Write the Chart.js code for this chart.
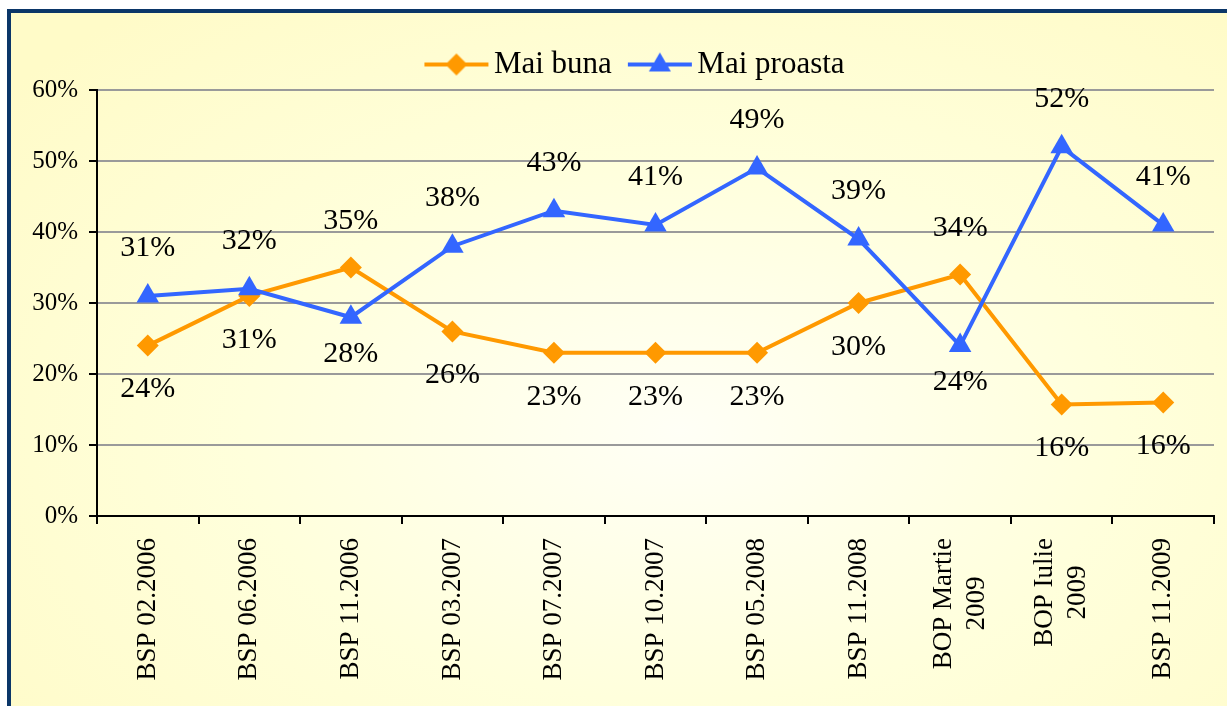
<!DOCTYPE html>
<html>
<head>
<meta charset="utf-8">
<script src="https://cdn.jsdelivr.net/npm/chart.js@4"></script>
<style>
  html, body { margin: 0; padding: 0; background: #fff; overflow: hidden; }
  #frame {
    position: absolute; left: 7px; top: 9px;
    width: 1240px; height: 720px;
    border-top: 4px solid #0b3668; border-left: 4px solid #0b3668;
    background: radial-gradient(ellipse 70% 75% at 54% 58%, #fffff6 0%, #ffffdc 50%, #fffbc8 100%);
  }
  #chart { position: absolute; left: 0; top: 0; }
</style>
</head>
<body>
<div id="frame"><canvas id="chart" width="1216" height="693"></canvas></div>
<script>
// categories (multi-line ones as arrays)
const categories = ['BSP 02.2006', 'BSP 06.2006', 'BSP 11.2006', 'BSP 03.2007', 'BSP 07.2007',
    'BSP 10.2007', 'BSP 05.2008', 'BSP 11.2008', ['BOP Martie', '2009'], ['BOP Iulie', '2009'], 'BSP 11.2009'];

// values in %
const maiBuna = [24, 31, 35, 26, 23, 23, 23, 30, 34, 15.7, 16];
const maiProasta = [31, 32, 28, 38, 43, 41, 49, 39, 24, 52, 41];

const seriesNames = ['Mai buna', 'Mai proasta'];

// y axis ticks
const yMin = 0, yMax = 60, yStep = 10;

// where each value label sits relative to its point
const bunaSide = ['below', 'below', 'above', 'below', 'below', 'below', 'below', 'below', 'above', 'below', 'below'];
const proastaSide = ['above', 'above', 'below', 'above', 'above', 'above', 'above', 'above', 'below', 'above', 'above'];

const ORANGE = '#ff9900';
const BLUE = '#3366ff';
const SERIF = '"Liberation Serif", "Times New Roman", serif';

// legend icon: short line with the marker in the middle
function legendIcon(color, shape) {
    const c = document.createElement('canvas');
    c.width = 84; c.height = 28;
    const g = c.getContext('2d');
    g.strokeStyle = color;
    g.fillStyle = color;
    g.lineWidth = 4;
    g.beginPath();
    g.moveTo(15, 14); g.lineTo(79, 14);
    g.stroke();
    g.beginPath();
    if (shape === 'diamond') {
        g.moveTo(47, 3); g.lineTo(58, 14); g.lineTo(47, 25); g.lineTo(36, 14);
    } else {
        g.moveTo(47, 2); g.lineTo(58, 21); g.lineTo(36, 21);
    }
    g.closePath();
    g.fill();
    return c;
}
const legendIcons = [legendIcon(ORANGE, 'diamond'), legendIcon(BLUE, 'triangle')];

// the original legend sits a little right of the canvas centre
const legendShift = {
    id: 'legendShift',
    afterLayout(chart) {
        chart.legend.left += 22;
        chart.legend.right += 22;
    }
};

// percent labels next to every point
const valueLabels = {
    id: 'valueLabels',
    afterDatasetsDraw(chart) {
        const ctx = chart.ctx;
        const sides = [bunaSide, proastaSide];
        const offsets = [{ above: -46, below: 44 }, { above: -48, below: 37 }];
        ctx.save();
        ctx.font = '30px ' + SERIF;
        ctx.fillStyle = '#000';
        ctx.textAlign = 'center';
        ctx.textBaseline = 'middle';
        chart.data.datasets.forEach((ds, di) => {
            chart.getDatasetMeta(di).data.forEach((pt, i) => {
                const off = offsets[di][sides[di][i]];
                ctx.fillText(Math.round(ds.data[i]) + '%', pt.x, pt.y + off);
            });
        });
        ctx.restore();
    }
};

// vertical category labels, lines centred on each other
const xLabels = {
    id: 'xLabels',
    afterDraw(chart) {
        const scale = chart.scales.x;
        const ctx = chart.ctx;
        const lh = 33;
        ctx.save();
        ctx.font = '27px ' + SERIF;
        ctx.fillStyle = '#000';
        ctx.textAlign = 'center';
        ctx.textBaseline = 'middle';
        categories.forEach((lab, i) => {
            const lines = [].concat(lab);
            const w = Math.max(...lines.map(l => ctx.measureText(l).width));
            ctx.save();
            ctx.translate(scale.getPixelForTick(i), scale.top + 22);
            ctx.rotate(-Math.PI / 2);
            lines.forEach((l, j) => ctx.fillText(l, -w / 2, (j - (lines.length - 1) / 2) * lh));
            ctx.restore();
        });
        ctx.restore();
    }
};

new Chart(document.getElementById('chart'), {
    type: 'line',
    data: {
        labels: categories,
        datasets: [{
            label: seriesNames[0],
            data: maiBuna,
            borderColor: ORANGE,
            backgroundColor: ORANGE,
            borderWidth: 4,
            pointStyle: 'rectRot',
            pointRadius: 11,
            pointBorderWidth: 0,
            tension: 0,
            order: 1
        }, {
            label: seriesNames[1],
            data: maiProasta,
            borderColor: BLUE,
            backgroundColor: BLUE,
            borderWidth: 4,
            pointStyle: 'triangle',
            pointRadius: 13,
            pointBorderWidth: 0,
            tension: 0,
            order: 0
        }]
    },
    options: {
        responsive: false,
        animation: false,
        layout: { padding: { top: 20, left: 0, right: 13, bottom: 0 } },
        plugins: {
            tooltip: { enabled: false },
            legend: {
                position: 'top',
                labels: {
                    usePointStyle: true,
                    pointStyleWidth: 54,
                    padding: 16,
                    color: '#000',
                    font: { family: SERIF, size: 31 },
                    sort: (a, b) => a.datasetIndex - b.datasetIndex,
                    generateLabels: (chart) =>
                        Chart.defaults.plugins.legend.labels.generateLabels(chart).map(l => {
                            l.pointStyle = legendIcons[l.datasetIndex];
                            return l;
                        })
                }
            }
        },
        scales: {
            x: {
                offset: true,
                grid: {
                    offset: true,
                    drawOnChartArea: false,
                    drawTicks: true,
                    tickLength: 8,
                    color: '#000',
                    lineWidth: 2
                },
                border: { color: '#000', width: 2 },
                ticks: { display: false },
                afterFit: (scale) => { scale.height = 190; }
            },
            y: {
                min: yMin,
                max: yMax,
                grid: {
                    color: '#9a9a9a',
                    lineWidth: 2,
                    tickColor: '#000',
                    tickLength: 8
                },
                border: { color: '#000', width: 2 },
                ticks: {
                    stepSize: yStep,
                    padding: 11,
                    color: '#000',
                    font: { family: SERIF, size: 25 },
                    callback: (v) => v + '%'
                },
                afterFit: (scale) => { scale.width = 86; }
            }
        }
    },
    plugins: [legendShift, valueLabels, xLabels]
});
</script>
</body>
</html>
